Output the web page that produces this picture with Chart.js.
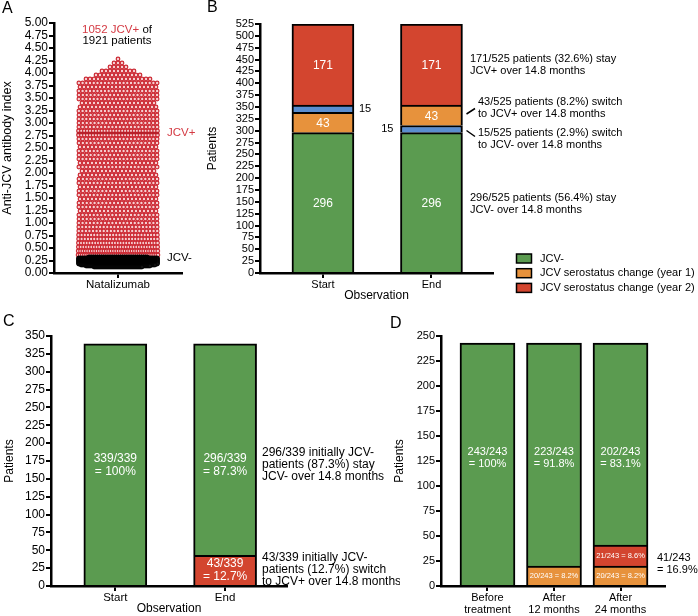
<!DOCTYPE html>
<html>
<head>
<meta charset="utf-8">
<script src="https://cdn.jsdelivr.net/npm/chart.js@4.4.0/dist/chart.umd.min.js"></script>
<style>
  body { margin: 0; background: #fff; }
  #wrap { position: relative; width: 698px; height: 616px; overflow: hidden; background: #fff; }
  canvas { position: absolute; }
</style>
</head>
<body>
<div id="wrap">
  <canvas id="chartC" style="left:0;top:305px;width:400px;height:311px" width="400" height="311"></canvas>
  <canvas id="chartD" style="left:380px;top:305px;width:318px;height:311px" width="318" height="311"></canvas>
  <canvas id="chartA" style="left:0;top:0;width:200px;height:300px" width="200" height="300"></canvas>
  <canvas id="chartB" style="left:200px;top:0;width:498px;height:305px" width="498" height="305"></canvas>
</div>
<script>
// ---- panel A: anti-JCV index per patient (rows of dots, value -> how many patients)
const posLevels = [4.28, 4.20, 4.12, 4.04, 3.96, 3.88, 3.80, 3.72, 3.64, 3.56, 3.48, 3.40, 3.32, 3.24, 3.16,
  3.08, 3.00, 2.92, 2.84, 2.76, 2.68, 2.60, 2.52, 2.44, 2.36, 2.28, 2.20, 2.12, 2.04, 1.96, 1.88, 1.80, 1.72,
  1.64, 1.56, 1.48, 1.40, 1.32, 1.24, 1.16, 1.08, 1.00, 0.92, 0.84, 0.76, 0.68, 0.60, 0.52, 0.44, 0.36];
const posCounts = [1, 3, 5, 9, 12, 17, 22, 20, 22, 21, 22, 19, 20, 22, 21,
  22, 21, 22, 28, 28, 22, 21, 20, 22, 21, 22, 20, 22, 19, 20, 21, 22, 20,
  21, 22, 20, 21, 22, 20, 22, 21, 22, 23, 23, 26, 26, 29, 31, 35, 39];
const negLevels = [0.32, 0.30, 0.28, 0.26, 0.24, 0.22, 0.20, 0.18, 0.16, 0.14, 0.12];
const negCounts = [60, 90, 95, 95, 90, 85, 85, 80, 75, 65, 49];
const posMedian = 2.8;
const groupLabels = ['Natalizumab'];

// ---- panel B
const obsLabels = ['Start', 'End'];
const bNeg = [296, 296];
const bChangeStart = [43, null];
const bSwitchNeg = [15, 15];
const bChangeEnd = [null, 43];
const bPos = [171, 171];

// ---- panel C
const cNeg = [339, 296];
const cPos = [null, 43];

// ---- panel D
const dLabels = [['Before', 'treatment'], ['After', '12 months'], ['After', '24 months']];
const dYear1 = [null, 20, 20];
const dYear2 = [null, null, 21];
const dNeg = [243, 223, 202];

const FONT = '"Liberation Sans", Arial, Helvetica, sans-serif';
const GREEN = '#5b9b50';
const ORANGE = '#e7923c';
const RED = '#d3452f';
const BLUE = '#5b8ed0';
const DOTRED = '#d43a43';

function f(size) { return size + 'px ' + FONT; }

function text(ctx, t, x, y, size, color, align) {
  ctx.save();
  ctx.font = f(size);
  ctx.fillStyle = color || '#000';
  ctx.textAlign = align || 'left';
  ctx.textBaseline = 'middle';
  ctx.fillText(t, x, y);
  ctx.restore();
}

function lines(ctx, arr, x, y, lh, size, color, align) {
  arr.forEach((t, i) => text(ctx, t, x, y + i * lh, size, color, align));
}

// centre of every bar in a dataset, keyed by category index
function segs(chart, ds) {
  const meta = chart.getDatasetMeta(ds);
  const data = chart.data.datasets[ds].data;
  return meta.data.map((el, j) => ({ i: data[j].x, x: el.x, y: (el.y + el.base) / 2, w: el.width }));
}

function axisY(o) {
  const ax = {
    min: 0, max: o.max, stacked: o.stacked !== false,
    ticks: { stepSize: o.step, autoSkip: false, padding: 1, color: '#000', font: { family: FONT, size: o.tick } },
    grid: { drawOnChartArea: false, tickLength: 5, color: '#000', lineWidth: 2 },
    border: { color: '#000', width: 2.5 },
    title: { display: true, text: o.title, color: '#000', font: { family: FONT, size: o.titleSize }, padding: { top: o.tpad, bottom: 0 } },
    afterFit: s => { s.width = o.width; }
  };
  if (o.fmt) ax.ticks.callback = o.fmt;
  return ax;
}

function axisX(o) {
  return {
    type: 'linear', min: o.min, max: o.max, stacked: false, offset: false,
    afterBuildTicks: s => { s.ticks = o.labels.map((_, i) => ({ value: i })); },
    ticks: { autoSkip: false, maxRotation: 0, padding: 1, color: '#000',
      font: { family: FONT, size: o.tick, lineHeight: 1.1 }, callback: v => o.labels[v] },
    grid: { drawOnChartArea: false, offset: false, tickLength: 5, color: '#000', lineWidth: 2 },
    border: { color: '#000', width: 2.5 },
    title: { display: !!o.title, text: o.title || '', color: '#000', font: { family: FONT, size: 12 }, padding: { top: 0, bottom: 0 } },
    afterFit: s => { s.height = o.height; }
  };
}

function barSet(vals, color, thick) {
  return {
    data: vals.map((v, i) => (v == null ? null : { x: i, y: v })).filter(Boolean),
    backgroundColor: color, borderColor: '#000', borderWidth: 2, barThickness: thick, grouped: false
  };
}

const base = {
  responsive: false, animation: false, devicePixelRatio: 1,
  plugins: { legend: { display: false }, tooltip: { enabled: false } }
};

// ---------------- A
const PX_PER_UNIT = 64; // x axis -1..1 over 128 px
function swarm(levels, counts, spacingPx, maxPx) {
  const pts = [];
  levels.forEach((y, r) => {
    const n = counts[r];
    const w = Math.min(n * spacingPx, maxPx) / PX_PER_UNIT;
    for (let k = 0; k < n; k++) pts.push({ x: -w / 2 + (k + 0.5) * w / n, y: y });
  });
  return pts;
}
const medianHalf = 41 / PX_PER_UNIT;

new Chart(document.getElementById('chartA'), {
  type: 'scatter',
  data: {
    datasets: [
      { type: 'line', data: [{ x: -medianHalf, y: posMedian }, { x: medianHalf, y: posMedian }],
        borderColor: '#b8202a', borderWidth: 2.5, pointRadius: 0 },
      { data: swarm(negLevels, negCounts, 1.0, 80), pointRadius: 1.9, borderWidth: 0.8,
        borderColor: '#000', backgroundColor: '#111' },
      { data: swarm(posLevels, posCounts, 4, 82), pointRadius: 1.8, borderWidth: 1.2,
        borderColor: '#cc2a34', backgroundColor: '#f6d0d2' }
    ]
  },
  options: Object.assign({}, base, {
    layout: { padding: { left: 0, top: 23, right: 18, bottom: 7 } },
    scales: {
      x: axisX({ min: -1, max: 1, labels: groupLabels, tick: 11.5, height: 20 }),
      y: axisY({ max: 5, step: 0.25, tick: 12, title: 'Anti-JCV antibody index', titleSize: 12.5,
        tpad: 0, width: 54, stacked: false, fmt: v => v.toFixed(2) })
    }
  }),
  plugins: [{
    id: 'notesA',
    afterDraw(chart) {
      const ctx = chart.ctx;
      const y = chart.scales.y;
      text(ctx, 'A', 2, 9, 16);
      ctx.save();
      ctx.font = f(11.5);
      const a = '1052 JCV+', b = ' of';
      const wa = ctx.measureText(a).width, wb = ctx.measureText(b).width;
      ctx.restore();
      const x0 = 117 - (wa + wb) / 2;
      text(ctx, a, x0, 30, 11.5, DOTRED);
      text(ctx, b, x0 + wa, 30, 11.5, '#000');
      text(ctx, '1921 patients', 117, 41, 11.5, '#000', 'center');
      text(ctx, 'JCV+', 167, y.getPixelForValue(posMedian), 11.5, DOTRED);
      text(ctx, 'JCV-', 167, y.getPixelForValue(0.3), 11.5, '#000');
    }
  }]
});

// ---------------- B
new Chart(document.getElementById('chartB'), {
  type: 'bar',
  data: {
    datasets: [
      barSet(bNeg, GREEN, 62),
      barSet(bChangeStart, ORANGE, 62),
      barSet(bSwitchNeg, BLUE, 62),
      barSet(bChangeEnd, ORANGE, 62),
      barSet(bPos, RED, 62)
    ]
  },
  options: Object.assign({}, base, {
    layout: { padding: { left: 3, top: 24, right: 205, bottom: 2 } },
    scales: {
      x: axisX({ min: -0.58, max: 1.567, labels: obsLabels, tick: 11, height: 30, title: 'Observation' }),
      y: axisY({ max: 525, step: 25, tick: 11, title: 'Patients', titleSize: 12, tpad: 2, width: 57 })
    }
  }),
  plugins: [{
    id: 'notesB',
    afterDraw(chart) {
      const ctx = chart.ctx;
      text(ctx, 'B', 7, 8, 16);
      [0, 1, 3, 4].forEach(ds => segs(chart, ds).forEach(s => {
        const v = chart.data.datasets[ds].data.find(p => p.x === s.i).y;
        text(ctx, String(v), s.x, s.y + 1, 12, '#fff', 'center');
      }));
      segs(chart, 2).forEach(s => {
        const v = String(bSwitchNeg[s.i]);
        if (s.i === 0) text(ctx, v, s.x + s.w / 2 + 5, s.y, 11, '#000', 'left');
        else text(ctx, v, s.x - s.w / 2 - 7, s.y, 11, '#000', 'right');
      });
      lines(ctx, ['171/525 patients (32.6%) stay', 'JCV+ over 14.8 months'], 270, 59, 11.5, 11);
      lines(ctx, ['43/525 patients (8.2%) switch', 'to JCV+ over 14.8 months'], 278, 102, 11.5, 11);
      lines(ctx, ['15/525 patients (2.9%) switch', 'to JCV- over 14.8 months'], 278, 133, 11.5, 11);
      lines(ctx, ['296/525 patients (56.4%) stay', 'JCV- over 14.8 months'], 270, 198, 11.5, 11);
      ctx.save();
      ctx.strokeStyle = '#000';
      ctx.lineWidth = 1.5;
      ctx.beginPath();
      ctx.moveTo(266.5, 114); ctx.lineTo(275, 108.5);
      ctx.moveTo(266.5, 130.5); ctx.lineTo(275, 136.5);
      ctx.stroke();
      ctx.restore();
      const legend = [[GREEN, 'JCV-'], [ORANGE, 'JCV serostatus change (year 1)'], [RED, 'JCV serostatus change (year 2)']];
      legend.forEach((e, i) => {
        const cy = 258.5 + i * 14.7;
        ctx.save();
        ctx.fillStyle = e[0];
        ctx.fillRect(316.5, cy - 4.5, 15, 9);
        ctx.strokeStyle = '#000';
        ctx.lineWidth = 1.5;
        ctx.strokeRect(316.5, cy - 4.5, 15, 9);
        ctx.restore();
        text(ctx, e[1], 340, cy, 11);
      });
    }
  }]
});

// ---------------- C
new Chart(document.getElementById('chartC'), {
  type: 'bar',
  data: { datasets: [barSet(cPos, RED, 63), barSet(cNeg, GREEN, 63)] },
  options: Object.assign({}, base, {
    layout: { padding: { left: 0, top: 31, right: 113, bottom: 0 } },
    scales: {
      x: axisX({ min: -0.586, max: 1.564, labels: obsLabels, tick: 11.5, height: 30, title: 'Observation' }),
      y: axisY({ max: 350, step: 25, tick: 12, title: 'Patients', titleSize: 12, tpad: 2, width: 51 })
    }
  }),
  plugins: [{
    id: 'notesC',
    afterDraw(chart) {
      const ctx = chart.ctx;
      const y = chart.scales.y;
      text(ctx, 'C', 3, 17, 16);
      const total = cNeg[0];
      const mid = y.getPixelForValue(total / 2) - 6;
      segs(chart, 1).forEach(s => {
        const pct = s.i === 0 ? '100%' : (100 * cNeg[s.i] / total).toFixed(1) + '%';
        lines(ctx, [cNeg[s.i] + '/' + total, '= ' + pct], s.x, mid, 12.5, 12, '#fff', 'center');
      });
      segs(chart, 0).forEach(s => {
        lines(ctx, [cPos[s.i] + '/' + total, '= ' + (100 * cPos[s.i] / total).toFixed(1) + '%'], s.x, s.y - 6, 12.5, 12, '#fff', 'center');
      });
      lines(ctx, ['296/339 initially JCV-', 'patients (87.3%) stay', 'JCV- over 14.8 months'], 262, 148, 12, 12);
      lines(ctx, ['43/339 initially JCV-', 'patients (12.7%) switch', 'to JCV+ over 14.8 months'], 262, 253, 12, 12);
    }
  }]
});

// ---------------- D
new Chart(document.getElementById('chartD'), {
  type: 'bar',
  data: { datasets: [barSet(dYear1, ORANGE, 55), barSet(dYear2, RED, 55), barSet(dNeg, GREEN, 55)] },
  options: Object.assign({}, base, {
    layout: { padding: { left: 10, top: 31, right: 33, bottom: 0 } },
    scales: {
      x: axisX({ min: -0.699, max: 2.669, labels: dLabels, tick: 11, height: 30 }),
      y: axisY({ max: 250, step: 25, tick: 11, title: 'Patients', titleSize: 12, tpad: 2, width: 51 })
    }
  }),
  plugins: [{
    id: 'notesD',
    afterDraw(chart) {
      const ctx = chart.ctx;
      const y = chart.scales.y;
      text(ctx, 'D', 10, 19, 16);
      const total = dNeg[0];
      const mid = y.getPixelForValue(128) - 6;
      segs(chart, 2).forEach(s => {
        const pct = s.i === 0 ? '100%' : (100 * dNeg[s.i] / total).toFixed(1) + '%';
        lines(ctx, [dNeg[s.i] + '/' + total, '= ' + pct], s.x, mid, 11.5, 11, '#fff', 'center');
      });
      segs(chart, 0).forEach(s => {
        text(ctx, dYear1[s.i] + '/' + total + ' = ' + (100 * dYear1[s.i] / total).toFixed(1) + '%', s.x, s.y, 7.5, '#fff', 'center');
      });
      segs(chart, 1).forEach(s => {
        text(ctx, dYear2[s.i] + '/' + total + ' = ' + (100 * dYear2[s.i] / total).toFixed(1) + '%', s.x, s.y, 7.5, '#fff', 'center');
      });
      lines(ctx, ['41/243', '= 16.9%'], 277, 253, 12, 11);
    }
  }]
});
</script>
</body>
</html>
